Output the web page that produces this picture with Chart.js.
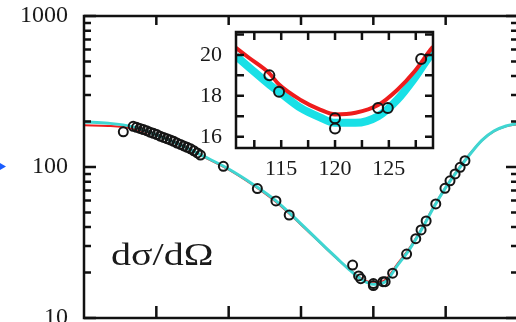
<!DOCTYPE html>
<html>
<head>
<meta charset="utf-8">
<script src="https://cdn.jsdelivr.net/npm/chart.js"></script>
<style>
html, body { margin: 0; padding: 0; background: #fff; overflow: hidden; }
#wrap { position: relative; width: 516px; height: 322px; overflow: hidden; }
#main { position: absolute; left: 0; top: 0; }
#inset { position: absolute; left: 180px; top: 20px; }
</style>
</head>
<body>
<div id="wrap">
  <canvas id="main" width="530" height="340" style="width:530px;height:340px"></canvas>
  <canvas id="inset" width="270" height="170" style="width:270px;height:170px"></canvas>
</div>
<script>
// angles (deg) and cross sections
const curveAngles = [0, 10, 20, 30, 40, 50, 60, 70, 80, 90, 100, 105, 110, 115, 120, 125, 130, 135, 140, 145, 150, 155, 160, 165, 170, 175, 180];
const redCurve  = [189, 187, 180, 162, 139, 116, 96, 76, 58, 41.5, 29.3, 24.7, 21.0, 18.3, 17.1, 17.9, 22.8, 29.0, 39, 54.5, 73.5, 96, 122, 150, 172, 186, 192];
const cyanCurve = [199, 195, 185, 163, 140, 117, 97, 77, 59, 42, 29.5, 24.8, 20.9, 18.0, 16.7, 17.4, 22.3, 28.5, 38.5, 54, 73, 95, 121, 150, 173, 187, 194];

const insetAngles = [110.8, 112, 113.9, 114.8, 116.8, 118.6, 120, 121.9, 124, 125.8, 127.4, 128.8, 129.1];
const insetRed  = [20.34, 19.86, 19.1, 18.55, 17.8, 17.33, 17.09, 17.17, 17.55, 18.3, 19.2, 20.2, 20.4];
const insetCyan = [19.94, 19.4, 18.55, 18.2, 17.41, 16.95, 16.68, 16.68, 17.0, 17.82, 18.88, 19.94, 20.1];

const pointAngles = [16.3, 20.4, 21.8, 23.2, 24.6, 26, 27.4, 28.8, 30.2, 31.6, 33, 34.4, 35.8, 37.2, 38.6, 40, 41.4, 42.8, 44.2, 45.6, 47, 48.3,
  57.8, 71.9, 79.6, 85.1, 111.4, 113.9, 114.8, 120, 120, 124, 124.9, 128, 133.8, 137.6, 139.8, 141.9, 145.9, 149.7, 151.8, 153.9, 156, 158];
const pointValues = [171, 186, 183, 180, 177, 174, 170, 167, 164, 160, 157, 154, 151, 148, 144, 141, 138, 135, 132, 128, 124, 120,
  101, 72, 59.6, 48.1, 22.4, 19.0, 18.2, 16.9, 16.4, 17.4, 17.4, 19.8, 26.5, 33.5, 38.3, 43.9, 56.9, 72.2, 81, 90, 99.5, 110];

const yTickLabels = [10, 100, 1000];
const xTicks = [30, 60, 90, 120, 150];
const insetXLabels = [115, 120, 125];
const insetXTicks = [112.5, 115, 117.5, 120, 122.5, 125, 127.5];
const insetYLabels = [16, 18, 20];
const insetYTicks = [16, 17, 18, 19, 20, 21];

const serif = "'Liberation Serif', 'DejaVu Serif', serif";
const RED = "#ee1c1c";
const CYAN = "#3fd6d2";
const INSET_CYAN = "#19e0e6";

const toXY = (xs, ys) => xs.map((x, i) => ({ x: x, y: ys[i] }));

const lineSet = (data, color, width, order) => ({
  type: "line",
  data: data,
  borderColor: color,
  borderWidth: width,
  pointRadius: 0,
  fill: false,
  cubicInterpolationMode: "monotone",
  order: order
});

const pointSet = (radius) => ({
  type: "scatter",
  data: toXY(pointAngles, pointValues),
  pointRadius: radius,
  pointBorderWidth: 2,
  pointBorderColor: "#151515",
  pointBackgroundColor: "rgba(0,0,0,0)",
  order: 0
});

// no extra space for half labels
const noPad = s => { s.paddingTop = 0; s.paddingBottom = 0; s.paddingLeft = 0; s.paddingRight = 0; };

// inward ticks + frame
const frame = (xList, yList, majorY, lenMajor, lenMinor, topLen) => ({
  id: "frame",
  afterDraw(chart) {
    const { ctx, chartArea: a, scales } = chart;
    ctx.save();
    ctx.strokeStyle = "#111";
    ctx.lineWidth = 2.5;
    ctx.strokeRect(a.left, a.top, a.right - a.left, a.bottom - a.top);
    ctx.beginPath();
    xList.forEach(v => {
      const px = scales.x.getPixelForValue(v);
      ctx.moveTo(px, a.bottom); ctx.lineTo(px, a.bottom - lenMajor);
      ctx.moveTo(px, a.top); ctx.lineTo(px, a.top + topLen);
    });
    yList.forEach(v => {
      const py = scales.y.getPixelForValue(v);
      const len = majorY(v) ? lenMajor : lenMinor;
      ctx.moveTo(a.left, py); ctx.lineTo(a.left + len, py);
      ctx.moveTo(a.right, py); ctx.lineTo(a.right - len, py);
    });
    ctx.stroke();
    ctx.restore();
  }
});

const logTicks = [];
[10, 100].forEach(d => { for (let m = 1; m <= 9; m++) logTicks.push(d * m); });

const annot = {
  id: "annot",
  afterDraw(chart) {
    const ctx = chart.ctx;
    ctx.save();
    ctx.fillStyle = "#1a1a1a";
    ctx.font = "32px " + serif;
    ctx.textBaseline = "alphabetic";
    ctx.translate(111, 265);
    ctx.scale(1.25, 1);
    ctx.fillText("dσ/dΩ", 0, 0);
    ctx.restore();
    // small blue marker at the left edge
    ctx.save();
    ctx.fillStyle = "#1a5cff";
    ctx.beginPath();
    ctx.moveTo(0, 163); ctx.lineTo(6, 166.5); ctx.lineTo(0, 170); ctx.closePath();
    ctx.fill();
    ctx.restore();
  }
};

new Chart(document.getElementById("main"), {
  data: {
    datasets: [
      lineSet(toXY(curveAngles, redCurve), RED, 2, 2),
      lineSet(toXY(curveAngles, cyanCurve), CYAN, 3, 1),
      pointSet(4.5)
    ]
  },
  options: {
    responsive: false,
    animation: false,
    layout: { padding: { left: 0, top: 16, right: 12, bottom: 22 } },
    plugins: { legend: { display: false }, tooltip: { enabled: false } },
    scales: {
      x: { type: "linear", min: 0, max: 180, display: false },
      y: {
        type: "logarithmic",
        min: 10,
        max: 1000,
        afterBuildTicks: s => { s.ticks = yTickLabels.map(v => ({ value: v })); },
        afterFit: s => { s.width = 84; noPad(s); },
        grid: { display: false, drawTicks: false },
        border: { display: false },
        ticks: {
          autoSkip: false,
          padding: 16,
          color: "#1a1a1a",
          font: { family: serif, size: 24 },
          callback: v => String(v)
        }
      }
    }
  },
  plugins: [frame(xTicks, logTicks.concat([1000]), v => [10, 100, 1000].includes(v), 12, 7, 9), annot]
});

new Chart(document.getElementById("inset"), {
  data: {
    datasets: [
      lineSet(toXY(insetAngles, insetCyan), INSET_CYAN, 8, 2),
      lineSet(toXY(insetAngles, insetRed), RED, 4, 1),
      pointSet(5)
    ]
  },
  options: {
    responsive: false,
    animation: false,
    layout: { padding: { left: 0, top: 12, right: 17, bottom: 0 } },
    plugins: { legend: { display: false }, tooltip: { enabled: false } },
    scales: {
      x: {
        type: "linear",
        min: 110.8,
        max: 129.1,
        afterBuildTicks: s => { s.ticks = insetXLabels.map(v => ({ value: v })); },
        afterFit: s => { s.height = 42; noPad(s); },
        grid: { display: false, drawTicks: false },
        border: { display: false },
        ticks: { autoSkip: false, maxRotation: 0, padding: 8, color: "#1a1a1a", font: { family: serif, size: 22 }, callback: v => String(v) }
      },
      y: {
        type: "linear",
        min: 15.45,
        max: 21.12,
        afterBuildTicks: s => { s.ticks = insetYLabels.map(v => ({ value: v })); },
        afterFit: s => { s.width = 56; noPad(s); },
        grid: { display: false, drawTicks: false },
        border: { display: false },
        ticks: { autoSkip: false, padding: 14, color: "#1a1a1a", font: { family: serif, size: 22 }, callback: v => String(v) }
      }
    }
  },
  plugins: [frame(insetXTicks, insetYTicks, () => true, 8, 8, 8)]
});
</script>
</body>
</html>
